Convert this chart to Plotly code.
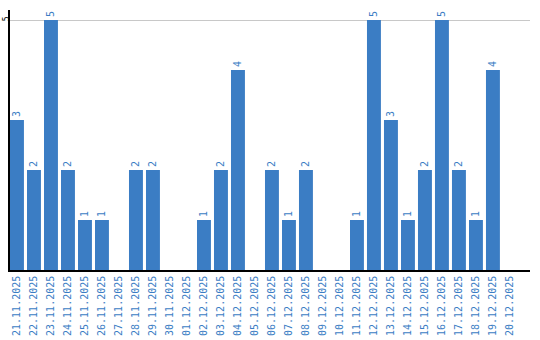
import plotly.graph_objects as go

dates = ["21.11.2025","22.11.2025","23.11.2025","24.11.2025","25.11.2025","26.11.2025",
         "27.11.2025","28.11.2025","29.11.2025","30.11.2025","01.12.2025","02.12.2025",
         "03.12.2025","04.12.2025","05.12.2025","06.12.2025","07.12.2025","08.12.2025",
         "09.12.2025","10.12.2025","11.12.2025","12.12.2025","13.12.2025","14.12.2025",
         "15.12.2025","16.12.2025","17.12.2025","18.12.2025","19.12.2025","20.12.2025"]
values = [3,2,5,2,1,1,0,2,2,0,0,1,2,4,0,2,1,2,0,0,1,5,3,1,2,5,2,1,4,0]

xs = list(range(len(dates)))
labels = [str(v) if v > 0 else "" for v in values]

BLUE = "#3b7dc4"
fig = go.Figure(go.Bar(
    x=xs, y=values, text=labels, textposition="outside", textangle=-90,
    textfont=dict(family="DejaVu Sans Mono", size=10, color=BLUE),
    marker=dict(color=BLUE, line=dict(width=0)), width=0.82, cliponaxis=False,
    hoverinfo="skip",
))
fig.update_layout(
    width=540, height=340, margin=dict(l=10, r=10, t=10, b=70),
    paper_bgcolor="white", plot_bgcolor="white", showlegend=False,
)
fig.update_xaxes(
    range=[-0.41, 30.18], tickvals=xs, ticktext=dates, tickangle=-90,
    tickfont=dict(family="DejaVu Sans Mono", size=10, color=BLUE),
    showline=True, linecolor="black", linewidth=1.5, showgrid=False, ticks="",
    zeroline=False, automargin=False,
)
fig.update_yaxes(
    range=[0, 5.2], tickvals=[5], ticktext=["5"], tickangle=-90,
    tickfont=dict(family="DejaVu Sans Mono", size=8, color="black"),
    ticklabelstandoff=-4,
    showline=True, linecolor="black", linewidth=1.5, showgrid=True, gridcolor="#c8c8c8",
    ticks="", zeroline=False, automargin=False,
)
fig.write_html("out.html")
